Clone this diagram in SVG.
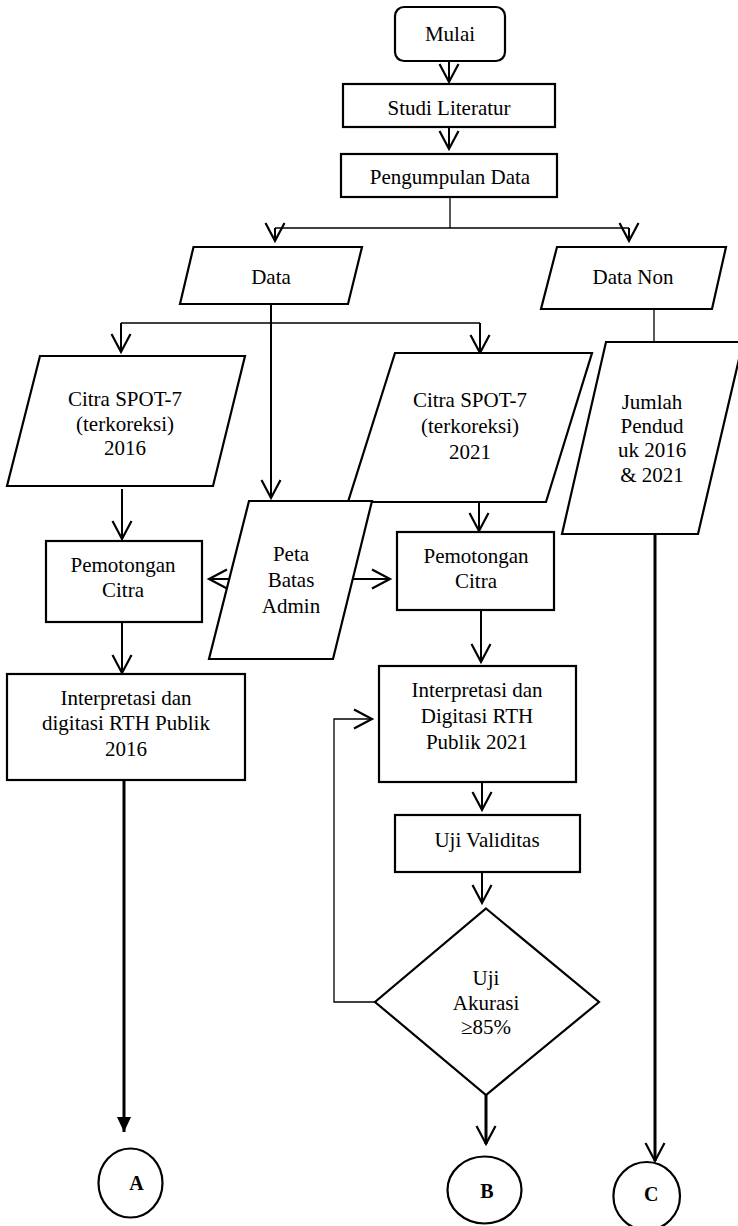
<svg xmlns="http://www.w3.org/2000/svg" width="738" height="1226" viewBox="0 0 738 1226">
<style>
.shape{fill:#fff;stroke:#000;stroke-width:2.2}
.t{font-size:21px;fill:#000;text-anchor:middle}
.b{font-size:20px;font-weight:bold;fill:#000;text-anchor:middle}
.c1{fill:none;stroke:#000;stroke-width:1.3}
.c2{fill:none;stroke:#000;stroke-width:2}
.c3{fill:none;stroke:#000;stroke-width:3}
.arr{marker-end:url(#open)}
</style>
<defs>
<marker id="open" markerUnits="userSpaceOnUse" markerWidth="24" markerHeight="24" viewBox="0 0 24 24" refX="20" refY="12" orient="auto">
<path d="M2,2.5 L20,12 L2,21.5" fill="none" stroke="#000" stroke-width="2.2"/>
</marker>
<marker id="solid" markerUnits="userSpaceOnUse" markerWidth="20" markerHeight="20" viewBox="0 0 20 20" refX="16" refY="10" orient="auto">
<path d="M1,3 L16,10 L1,17 Z" fill="#000"/>
</marker>
</defs>
<rect width="738" height="1226" fill="#fff"/>

<g id="connectors">
<path class="c2 arr" d="M449,61 V82"/>
<path class="c2 arr" d="M449,127 V149"/>
<path class="c1" d="M450,197 V228 M275,228 H629"/>
<path class="c2 arr" d="M275,228 V241"/>
<path class="c2 arr" d="M629,228 V241"/>
<path class="c1" d="M121,323 H480"/>
<path class="c2 arr" d="M121,323 V352"/>
<path class="c2 arr" d="M480,323 V353"/>
<path class="c2 arr" d="M271,304 V498"/>
<path class="c2 arr" d="M122,489 V539"/>
<path class="c2 arr" d="M122,622 V673"/>
<path class="c2 arr" d="M229,579 H209"/>
<path class="c2 arr" d="M353,579 H390"/>
<path class="c2 arr" d="M479,502 V531"/>
<path class="c2 arr" d="M481,610 V662"/>
<path class="c2 arr" d="M482,782 V810"/>
<path class="c2 arr" d="M482,872 V903"/>
<path class="c3 arr" d="M486,1095 V1144"/>
<path class="c1 arr" d="M375,1002 H334 V719 H372"/>
<path class="c3" d="M124,780 V1132" marker-end="url(#solid)"/>
<path class="c1" d="M654,309 V342"/>
<path class="c3 arr" d="M655,534 V1161"/>
</g>

<g font-family="'Liberation Serif', Tinos, 'Times New Roman', 'DejaVu Serif', serif">
<g id="mulai"><rect class="shape" x="395" y="7" width="110" height="54" rx="9"/><text class="t" x="450" y="41">Mulai</text></g>
<g id="studi-literatur"><rect class="shape" x="343" y="84" width="212" height="43"/><text class="t" x="449" y="115">Studi Literatur</text></g>
<g id="pengumpulan-data"><rect class="shape" x="341" y="154" width="216" height="43"/><text class="t" x="450" y="184">Pengumpulan Data</text></g>
<g id="data"><polygon class="shape" points="193.5,247 362,247 348,304 180,304"/><text class="t" x="271" y="284">Data</text></g>
<g id="data-non"><polygon class="shape" points="557,247 726,247 712,309 541,309"/><text class="t" x="633" y="284">Data Non</text></g>
<g id="citra-2016"><polygon class="shape" points="40,356 245,356 213,486 7,486"/><text class="t"><tspan x="125" y="406">Citra SPOT-7</tspan><tspan x="125" y="431">(terkoreksi)</tspan><tspan x="125" y="455">2016</tspan></text></g>
<g id="citra-2021"><polygon class="shape" points="395,353 592,353 546,502 348,502"/><text class="t"><tspan x="470" y="407">Citra SPOT-7</tspan><tspan x="470" y="433">(terkoreksi)</tspan><tspan x="470" y="459">2021</tspan></text></g>
<g id="jumlah-penduduk"><polygon class="shape" points="606,342 743,342 698,534 562,534"/><text class="t"><tspan x="652" y="409">Jumlah</tspan><tspan x="652" y="433">Pendud</tspan><tspan x="652" y="457">uk 2016</tspan><tspan x="652" y="482">&amp; 2021</tspan></text></g>
<g id="peta-batas-admin"><polygon class="shape" points="249,501 372,501 333,659 209,659"/><text class="t"><tspan x="291" y="561">Peta</tspan><tspan x="291" y="587">Batas</tspan><tspan x="291" y="613">Admin</tspan></text></g>
<g id="pemotongan-2016"><rect class="shape" x="46" y="541" width="156" height="81"/><text class="t"><tspan x="123" y="572">Pemotongan</tspan><tspan x="123" y="597">Citra</tspan></text></g>
<g id="pemotongan-2021"><rect class="shape" x="397" y="532" width="157" height="78"/><text class="t"><tspan x="476" y="563">Pemotongan</tspan><tspan x="476" y="588">Citra</tspan></text></g>
<g id="interpretasi-2016"><rect class="shape" x="7" y="674" width="238" height="106"/><text class="t"><tspan x="126" y="705">Interpretasi dan</tspan><tspan x="126" y="730">digitasi RTH Publik</tspan><tspan x="126" y="756">2016</tspan></text></g>
<g id="interpretasi-2021"><rect class="shape" x="379" y="666" width="197" height="116"/><text class="t"><tspan x="477" y="697">Interpretasi dan</tspan><tspan x="477" y="723">Digitasi RTH</tspan><tspan x="477" y="749">Publik 2021</tspan></text></g>
<g id="uji-validitas"><rect class="shape" x="395" y="815" width="185" height="57"/><text class="t" x="487" y="847">Uji Validitas</text></g>
<g id="uji-akurasi"><polygon class="shape" points="486,908.5 599,1002 486,1095 375,1002"/><text class="t"><tspan x="486" y="985">Uji</tspan><tspan x="486" y="1010">Akurasi</tspan><tspan x="486" y="1034">≥85%</tspan></text></g>
<g id="connector-a"><ellipse class="shape" cx="130.5" cy="1183" rx="32" ry="34.5"/><text class="b" x="136.5" y="1190">A</text></g>
<g id="connector-b"><ellipse class="shape" cx="484.5" cy="1190" rx="37" ry="33.5"/><text class="b" x="487" y="1198">B</text></g>
<g id="connector-c"><ellipse class="shape" cx="646.7" cy="1196" rx="33.3" ry="34"/><text class="b" x="651.3" y="1201">C</text></g>
</g>
</svg>
